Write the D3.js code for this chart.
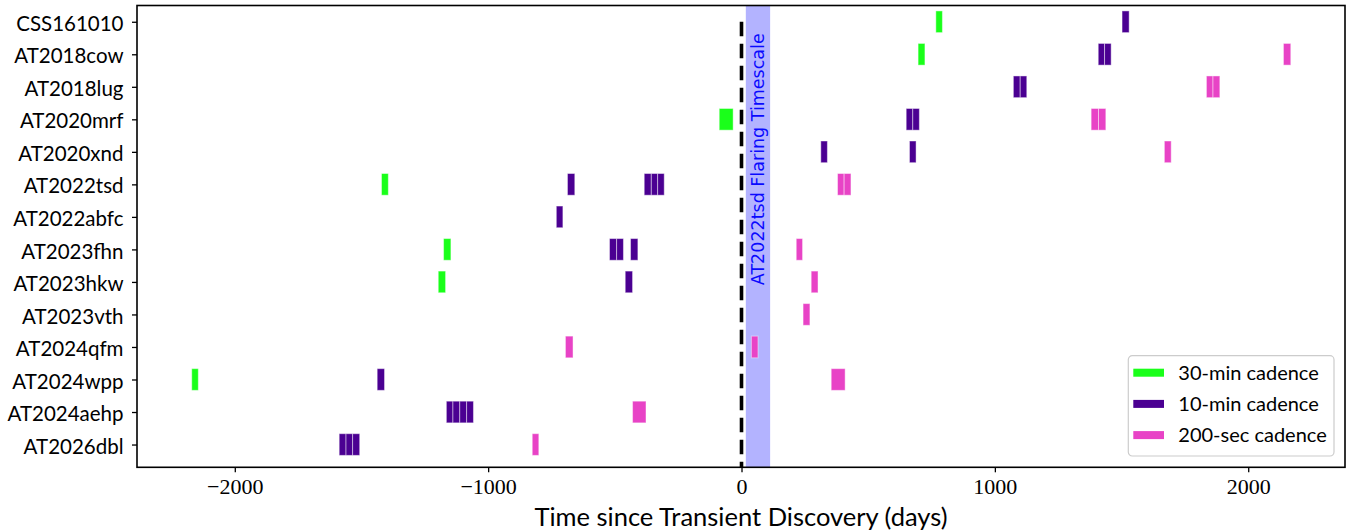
<!DOCTYPE html>
<html>
<head>
<meta charset="utf-8">
<script src="https://cdn.jsdelivr.net/npm/d3@7/dist/d3.min.js"></script>
<style>
  html, body { margin: 0; padding: 0; background: #fff; }
  svg { display: block; }
</style>
</head>
<body>
<svg id="chart" width="1348" height="531"></svg>
<script>
// Transients, top to bottom
const targets = [
  "CSS161010", "AT2018cow", "AT2018lug", "AT2020mrf", "AT2020xnd",
  "AT2022tsd", "AT2022abfc", "AT2023fhn", "AT2023hkw", "AT2023vth",
  "AT2024qfm", "AT2024wpp", "AT2024aehp", "AT2026dbl"
];

// TESS sector coverage: [target, start (days since discovery), length (days)]
const obs30min = [
  ["CSS161010", 767, 26],
  ["AT2018cow", 697, 27],
  ["AT2020mrf", -88, 55],
  ["AT2022tsd", -1421, 27],
  ["AT2023fhn", -1176, 29],
  ["AT2023hkw", -1197, 29],
  ["AT2024wpp", -2170, 26]
];

const obs10min = [
  ["CSS161010", 1502, 28],
  ["AT2018cow", 1408, 25], ["AT2018cow", 1433, 26],
  ["AT2018lug", 1073, 27], ["AT2018lug", 1100, 26],
  ["AT2020mrf", 650, 26], ["AT2020mrf", 676, 26],
  ["AT2020xnd", 313, 26], ["AT2020xnd", 663, 26],
  ["AT2022tsd", -687, 29],
  ["AT2022tsd", -384, 28], ["AT2022tsd", -356, 25], ["AT2022tsd", -331, 26],
  ["AT2022abfc", -731, 26],
  ["AT2023fhn", -521, 28], ["AT2023fhn", -493, 27], ["AT2023fhn", -438, 29],
  ["AT2023hkw", -459, 29],
  ["AT2024wpp", -1438, 29],
  ["AT2024aehp", -1165, 26], ["AT2024aehp", -1139, 27], ["AT2024aehp", -1112, 27], ["AT2024aehp", -1085, 27],
  ["AT2026dbl", -1588, 27], ["AT2026dbl", -1561, 26], ["AT2026dbl", -1535, 28]
];

const obs200sec = [
  ["AT2018cow", 2139, 29],
  ["AT2018lug", 1835, 26], ["AT2018lug", 1861, 27],
  ["AT2020mrf", 1380, 29], ["AT2020mrf", 1409, 29],
  ["AT2020xnd", 1669, 27],
  ["AT2022tsd", 379, 26], ["AT2022tsd", 405, 27],
  ["AT2023fhn", 216, 25],
  ["AT2023hkw", 275, 27],
  ["AT2023vth", 243, 27],
  ["AT2024qfm", -695, 30], ["AT2024qfm", 39, 26],
  ["AT2024wpp", 354, 55],
  ["AT2024aehp", -430, 53],
  ["AT2026dbl", -826, 26]
];

const cadences = [
  { label: "30-min cadence", color: "#1aff1a", data: obs30min },
  { label: "10-min cadence", color: "#4b0092", data: obs10min },
  { label: "200-sec cadence", color: "#e843c6", data: obs200sec }
];

// Flaring window of AT2022tsd (days)
const flareWindow = [17, 113];
const flareLabel = "AT2022tsd Flaring Timescale";

const xTicks = [-2000, -1000, 0, 1000, 2000];
const xDomain = [-2386, 2382];

const svg = d3.select("#chart");
const W = 1348, H = 531;
const m = { left: 137, right: 3, top: 5.5, bottom: 63.7 };
const plotW = W - m.left - m.right;
const plotH = H - m.top - m.bottom;

const x = d3.scaleLinear().domain(xDomain).range([m.left, m.left + plotW]);
// row index → pixel
const y = d3.scaleLinear().domain([-0.5, 13.7]).range([m.top, m.top + plotH]);
const rowOf = name => targets.indexOf(name);
const barH = 0.667;

const g = svg.append("g");

// Flaring timescale band
g.append("rect")
  .attr("x", x(flareWindow[0]))
  .attr("y", m.top)
  .attr("width", x(flareWindow[1]) - x(flareWindow[0]))
  .attr("height", plotH)
  .attr("fill", "#b3b3ff");

// Discovery epoch
g.append("line")
  .attr("x1", x(0)).attr("x2", x(0))
  .attr("y1", y(0)).attr("y2", m.top + plotH)
  .attr("stroke", "#000")
  .attr("stroke-width", 3.6)
  .attr("stroke-dasharray", "14.5,7.5");

// Band label
const bandMid = (x(flareWindow[0]) + x(flareWindow[1])) / 2;
g.append("text")
  .attr("transform", `translate(${bandMid + 6.5},${y(8.1)}) rotate(-90)`)
  .attr("font-family", "DejaVu Sans")
  .attr("font-size", 17.5)
  .attr("fill", "#0a0aff")
  .text(flareLabel);

// Observation sectors
cadences.forEach(c => {
  g.append("g").selectAll("rect")
    .data(c.data)
    .join("rect")
    .attr("x", d => x(d[1]))
    .attr("width", d => x(d[1] + d[2]) - x(d[1]))
    .attr("y", d => y(rowOf(d[0]) - barH / 2))
    .attr("height", d => y(barH) - y(0))
    .attr("fill", c.color)
    .attr("stroke", "#fff")
    .attr("stroke-opacity", 0.45)
    .attr("stroke-width", 1);
});

// Axes
const xAxis = d3.axisBottom(x)
  .tickValues(xTicks)
  .tickSize(5)
  .tickFormat(d => d < 0 ? "\u2212" + Math.abs(d) : String(d));
const xg = g.append("g")
  .attr("transform", `translate(0,${m.top + plotH})`)
  .call(xAxis);
xg.select(".domain").remove();
xg.selectAll(".tick line").attr("stroke", "#000").attr("stroke-width", 1.3);
xg.selectAll(".tick text")
  .attr("font-family", "Liberation Serif")
  .attr("font-size", 22)
  .attr("fill", "#000")
  .attr("y", 11);

const yAxis = d3.axisLeft(y)
  .tickValues(d3.range(targets.length))
  .tickSize(5)
  .tickFormat(i => targets[i]);
const yg = g.append("g")
  .attr("transform", `translate(${m.left},0)`)
  .call(yAxis);
yg.select(".domain").remove();
yg.selectAll(".tick line").attr("stroke", "#000").attr("stroke-width", 1.3);
yg.selectAll(".tick text")
  .attr("font-family", "Lato")
  .attr("font-size", 20.5)
  .attr("fill", "#000")
  .attr("x", -13.5)
  .attr("dy", "0.42em");

// Frame
g.append("rect")
  .attr("x", m.left).attr("y", m.top)
  .attr("width", plotW).attr("height", plotH)
  .attr("fill", "none")
  .attr("stroke", "#000")
  .attr("stroke-width", 1.6);

// X label
g.append("text")
  .attr("x", m.left + plotW / 2)
  .attr("y", 526)
  .attr("text-anchor", "middle")
  .attr("font-family", "Lato")
  .attr("font-size", 25.5)
  .attr("fill", "#000")
  .text("Time since Transient Discovery (days)");

// Legend
const lg = g.append("g").attr("transform", "translate(1128.3,355.7)");
lg.append("rect")
  .attr("width", 205.7).attr("height", 100.3)
  .attr("rx", 4).attr("ry", 4)
  .attr("fill", "#fff").attr("fill-opacity", 0.8)
  .attr("stroke", "#cccccc").attr("stroke-width", 1.2);
cadences.forEach((c, i) => {
  const cy = 17 + i * 31.2;
  lg.append("rect")
    .attr("x", 5).attr("y", cy - 4)
    .attr("width", 30.7).attr("height", 8)
    .attr("fill", c.color);
  lg.append("text")
    .attr("x", 50).attr("y", cy)
    .attr("dy", "0.36em")
    .attr("font-family", "Lato")
    .attr("font-size", 20)
    .attr("fill", "#000")
    .text(c.label);
});
</script>
</body>
</html>
